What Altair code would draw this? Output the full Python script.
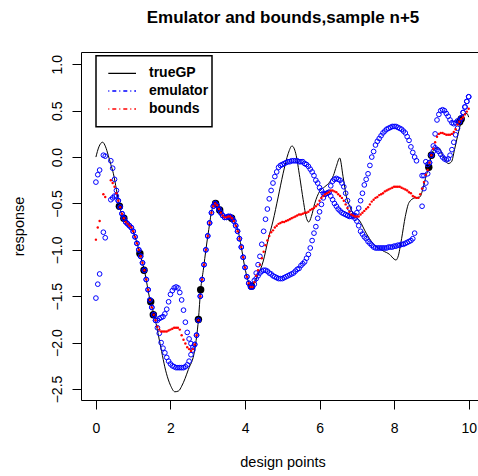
import altair as alt
import pandas as pd

FONT = "Liberation Sans"

# grid step for emulator / bounds evaluations
STEP = 0.05
N = 201

emu_upper = [
    -0.27, -0.19, -0.14, None, 0.02, 0.01, None, None, -0.04, -0.12,
    -0.24, -0.36, -0.47, -0.54, -0.61, -0.66, -0.70, -0.72, -0.74, -0.76,
    -0.80, -0.86, -0.93, -1.00, -1.07, -1.14, -1.22, -1.32, -1.43, -1.54,
    -1.62, -1.70, -1.76, -1.76, -1.74, -1.73, -1.72, -1.69, -1.64, -1.56,
    -1.48, -1.44, -1.41, -1.40, -1.41, -1.46, -1.54, -1.65, -1.78, -1.89,
    -1.96, -2.01, -2.05, -2.02, -1.92, -1.76, -1.50, -1.32, -1.16, -1.00,
    -0.85, -0.71, -0.60, -0.53, -0.50, -0.52, -0.56, -0.60, -0.63, -0.65,
    -0.65, -0.64, -0.64, -0.66, -0.69, -0.74, -0.80, -0.88, -0.97, -1.08,
    -1.19, -1.29, -1.36, -1.40, -1.40, -1.33, -1.25, -1.16, -1.07, -0.94,
    -0.80, -0.67, -0.56, -0.45, -0.36, -0.28, -0.21, -0.16, -0.11, -0.09,
    -0.08, -0.07, -0.06, -0.05, -0.05, -0.04, -0.04, -0.04, -0.04, -0.05,
    -0.05, -0.05, -0.07, -0.08, -0.10, -0.13, -0.16, -0.20, -0.25, -0.28,
    -0.33, -0.36, -0.39, -0.40, -0.39, -0.38, -0.31, -0.26, -0.24, -0.23,
    -0.24, -0.25, -0.28, -0.32, -0.39, -0.47, -0.55, -0.61, -0.63, -0.63,
    -0.60, -0.55, -0.47, -0.39, -0.30, -0.24, -0.18, -0.09, 0.00, 0.06,
    0.13, 0.17, 0.20, 0.23, 0.26, 0.28, 0.30, 0.31, 0.32, 0.33,
    0.33, 0.33, 0.32, 0.31, 0.30, 0.28, 0.26, 0.22, 0.18, 0.11,
    0.05, 0.00, -0.04, None, None, -0.20, -0.20, -0.05, -0.08, -0.06,
    0.02, 0.12, 0.25, 0.40, 0.46, 0.50, 0.51, 0.50, 0.47, 0.44,
    0.40, 0.37, 0.36, 0.37, 0.39, 0.38, 0.42, 0.48, 0.54, 0.60,
    0.65,
]

bounds_mid = [
    -0.89, -0.76, -0.69, None, -0.40, -0.43, None, None, -0.25, -0.28,
    -0.32, -0.39, -0.47, -0.54, -0.61, -0.66, -0.70, -0.72, -0.74, -0.76,
    -0.80, -0.86, -0.93, -1.00, -1.07, -1.14, -1.22, -1.32, -1.43, -1.54,
    -1.62, -1.70, -1.76, -1.83, -1.86, -1.88, -1.88, -1.88, -1.88, -1.87,
    -1.86, -1.85, -1.84, -1.84, -1.84, -1.86, -1.92, -1.97, -2.01, -2.05,
    -2.07, -2.09, -2.07, -2.02, -1.92, -1.76, -1.50, -1.32, -1.16, -1.00,
    -0.85, -0.71, -0.60, -0.53, -0.50, -0.52, -0.56, -0.60, -0.63, -0.65,
    -0.65, -0.64, -0.64, -0.66, -0.69, -0.74, -0.80, -0.88, -0.97, -1.08,
    -1.19, -1.29, -1.36, -1.40, -1.40, -1.35, -1.28, -1.22, -1.16, -1.09,
    -1.02, -0.95, -0.90, -0.85, -0.81, -0.79, -0.76, -0.74, -0.72, -0.71,
    -0.70, -0.70, -0.69, -0.68, -0.67, -0.66, -0.65, -0.64, -0.63, -0.62,
    -0.62, -0.61, -0.60, -0.60, -0.59, -0.57, -0.56, -0.55, -0.53, -0.51,
    -0.47, -0.44, -0.42, -0.40, -0.39, -0.38, -0.36, -0.36, -0.37, -0.38,
    -0.40, -0.42, -0.44, -0.47, -0.51, -0.55, -0.59, -0.62, -0.63, -0.64,
    -0.64, -0.64, -0.62, -0.60, -0.58, -0.56, -0.54, -0.51, -0.48, -0.46,
    -0.44, -0.43, -0.41, -0.40, -0.39, -0.37, -0.36, -0.35, -0.34, -0.33,
    -0.32, -0.32, -0.32, -0.32, -0.33, -0.34, -0.35, -0.36, -0.38, -0.39,
    -0.42, -0.43, -0.44, -0.44, -0.40, -0.34, -0.27, -0.19, -0.14, -0.06,
    0.02, 0.09, 0.16, 0.22, 0.25, 0.26, 0.26, 0.25, 0.24, 0.24,
    0.24, 0.25, 0.27, 0.30, 0.35, 0.38, 0.41, 0.43, 0.46, 0.49,
    0.52,
]

emu_lower = [
    -1.52, -1.37, -1.26, None, -0.81, -0.87, None, None, -0.46, -0.44,
    -0.42, -0.42, -0.47, -0.54, -0.61, -0.66, -0.70, -0.72, -0.74, -0.76,
    -0.80, -0.86, -0.93, -1.00, -1.07, -1.14, -1.22, -1.32, -1.43, -1.54,
    -1.62, -1.70, -1.76, -1.84, -1.90, -2.00, -2.06, -2.11, -2.16, -2.20,
    -2.23, -2.25, -2.26, -2.27, -2.27, -2.27, -2.27, -2.27, -2.26, -2.24,
    -2.20, -2.13, -2.08, -2.02, -1.92, -1.76, -1.50, -1.32, -1.16, -1.00,
    -0.85, -0.71, -0.60, -0.53, -0.50, -0.52, -0.56, -0.60, -0.63, -0.65,
    -0.65, -0.64, -0.64, -0.66, -0.69, -0.74, -0.80, -0.88, -0.97, -1.08,
    -1.19, -1.29, -1.36, -1.40, -1.40, -1.37, -1.31, -1.28, -1.25, -1.23,
    -1.22, -1.22, -1.23, -1.25, -1.26, -1.28, -1.29, -1.30, -1.31, -1.31,
    -1.31, -1.30, -1.29, -1.28, -1.27, -1.26, -1.25, -1.23, -1.21, -1.20,
    -1.17, -1.15, -1.13, -1.09, -1.05, -0.98, -0.90, -0.82, -0.75, -0.66,
    -0.59, -0.51, -0.44, -0.40, -0.39, -0.38, -0.42, -0.46, -0.50, -0.53,
    -0.56, -0.58, -0.60, -0.61, -0.62, -0.63, -0.64, -0.64, -0.64, -0.66,
    -0.69, -0.74, -0.80, -0.83, -0.86, -0.88, -0.91, -0.93, -0.95, -0.97,
    -0.98, -0.98, -0.98, -0.98, -0.98, -0.98, -0.98, -0.97, -0.97, -0.97,
    -0.96, -0.96, -0.95, -0.95, -0.94, -0.94, -0.93, -0.92, -0.91, -0.90,
    -0.88, -0.82, None, None, None, -0.53, -0.34, -0.28, -0.18, -0.06,
    0.02, 0.06, 0.10, 0.08, 0.06, 0.03, 0.00, -0.02, -0.03, -0.02,
    0.02, 0.08, 0.16, 0.24, 0.31, 0.38, 0.42, 0.48, 0.54, 0.60,
    0.65,
]

true_x = [0.0, 0.08, 0.18, 0.26, 0.33, 0.40, 0.47, 0.55, 0.63, 0.75, 0.85, 0.95,
          1.05, 1.18, 1.30, 1.45, 1.58, 1.72, 1.89, 2.00, 2.12, 2.22, 2.30, 2.48,
          2.65, 2.75, 2.81, 2.88, 2.96, 3.05, 3.10, 3.21, 3.32, 3.41, 3.50, 3.64,
          3.75, 3.81, 3.90, 3.99, 4.08, 4.17, 4.25, 4.35, 4.49, 4.62, 4.75, 4.89,
          5.02, 5.16, 5.26, 5.36, 5.47, 5.56, 5.65, 5.71, 5.78, 5.87, 6.00, 6.14,
          6.27, 6.37, 6.45, 6.54, 6.63, 6.72, 6.81, 6.90, 7.08, 7.25, 7.43, 7.70,
          7.88, 8.00, 8.05, 8.10, 8.20, 8.30, 8.40, 8.55, 8.69, 8.78, 8.86, 8.93,
          9.00, 9.10, 9.20, 9.30, 9.38, 9.45, 9.54, 9.62, 9.71, 9.80, 9.88, 9.95,
          10.0]
true_y = [0.00, 0.11, 0.16, 0.11, 0.02, -0.08, -0.18, -0.35, -0.53, -0.66, -0.72, -0.76,
          -0.86, -1.04, -1.22, -1.54, -1.73, -2.01, -2.33, -2.46, -2.53, -2.52, -2.47, -2.29,
          -2.08, -1.75, -1.43, -1.22, -0.97, -0.72, -0.59, -0.50, -0.57, -0.63, -0.65, -0.66,
          -0.73, -0.79, -0.97, -1.18, -1.33, -1.39, -1.35, -1.27, -1.12, -0.89, -0.69, -0.43,
          -0.18, 0.04, 0.12, 0.04, -0.22, -0.46, -0.66, -0.70, -0.64, -0.50, -0.37, -0.32,
          -0.27, -0.20, -0.10, -0.01, -0.21, -0.43, -0.53, -0.61, -0.69, -0.82, -0.93, -1.01,
          -1.05, -1.10, -1.11, -1.08, -0.88, -0.64, -0.49, -0.44, -0.43, -0.33, -0.20, -0.11,
          0.02, 0.09, 0.10, 0.02, -0.04, -0.07, -0.05, 0.08, 0.24, 0.38, 0.46, 0.47,
          0.43]

design_x = [0.63, 0.75, 1.18, 1.29, 1.47, 1.54, 2.75, 2.81, 3.21, 3.32, 3.64, 4.17,
            8.93, 9.00, 9.76, 9.80]
design_y = [-0.53, -0.66, -1.04, -1.22, -1.56, -1.70, -1.75, -1.43, -0.50, -0.57, -0.66, -1.39,
            -0.11, 0.02, 0.38, 0.41]

legend_labels = ["trueGP", "emulator", "bounds"]
legend_colors = ["black", "blue", "red"]

title_text = "Emulator and bounds,sample n+5"
x_title = "design points"
y_title = "response"
x_ticks = [0, 2, 4, 6, 8, 10]
y_ticks = [-2.5, -2.0, -1.5, -1.0, -0.5, 0.0, 0.5, 1.0]

grid = [round(STEP * i, 2) for i in range(N)]

blue_rows = []
for gx, u, l in zip(grid, emu_upper, emu_lower):
    if u is not None:
        blue_rows.append({"x": gx, "y": u})
    if l is not None:
        blue_rows.append({"x": gx, "y": l})
blue_df = pd.DataFrame(blue_rows)
red_df = pd.DataFrame([{"x": gx, "y": m} for gx, m in zip(grid, bounds_mid) if m is not None])
true_df = pd.DataFrame({"x": true_x, "y": true_y})
design_df = pd.DataFrame({"x": design_x, "y": design_y})

xscale = alt.Scale(domain=[-0.4, 10.25], nice=False, zero=False)
yscale = alt.Scale(domain=[-2.6186, 1.1326], nice=False, zero=False)

xaxis = alt.Axis(values=x_ticks, title=x_title, tickSize=9, labelPadding=23,
                 labelBaseline="alphabetic", labelFontSize=14, labelFont=FONT,
                 labelColor="black", tickColor="black", domain=False, grid=False,
                 titleFont=FONT, titleFontSize=14.5, titleFontWeight="normal",
                 titleColor="black", titleX=201.5, titleY=66, titleAlign="center",
                 titleBaseline="alphabetic", labelFlush=False)
yaxis = alt.Axis(values=y_ticks, format=".1f", title=y_title, tickSize=9, labelPadding=11,
                 labelAngle=270, labelAlign="center", labelBaseline="alphabetic",
                 labelFontSize=14, labelFont=FONT, labelColor="black", tickColor="black",
                 domain=False, grid=False, titleFont=FONT, titleFontSize=14.5,
                 titleFontWeight="normal", titleColor="black", titleAngle=270,
                 titleX=-57.5, titleY=174, titleAlign="center", titleBaseline="alphabetic",
                 labelFlush=False)

X = alt.X("x:Q", scale=xscale, axis=xaxis)
Y = alt.Y("y:Q", scale=yscale, axis=yaxis)

line = alt.Chart(true_df).mark_line(color="black", strokeWidth=1, interpolate="monotone",
                                    clip=True).encode(x=X, y=Y)
design = alt.Chart(design_df).mark_circle(color="black", size=55, opacity=1).encode(x=X, y=Y)
blue = alt.Chart(blue_df).mark_point(shape="circle", filled=False, color="blue", size=22,
                                     strokeWidth=1, opacity=1).encode(x=X, y=Y)
red = alt.Chart(red_df).mark_circle(color="red", size=6, opacity=1).encode(x=X, y=Y)

one = pd.DataFrame({"k": [0]})

title_layer = alt.Chart(one).mark_text(
    font=FONT, fontSize=17, fontWeight="bold", align="center", baseline="alphabetic",
    color="black").encode(x=alt.value(202), y=alt.value(-29.5), text=alt.value(title_text))

legend_layers = [
    alt.Chart(one).mark_rect(fill="white", stroke="black", strokeWidth=1.5).encode(
        x=alt.value(15), x2=alt.value(131), y=alt.value(3.7), y2=alt.value(74.7))
]
row_y = [21.3, 39.0, 57.0]
dashes = [[1, 0], [1, 3, 4, 3], [1, 3, 4, 3]]
for lab, col, ry, dash in zip(legend_labels, legend_colors, row_y, dashes):
    legend_layers.append(
        alt.Chart(one).mark_rule(color=col, strokeWidth=1.3, strokeDash=dash).encode(
            x=alt.value(27.3), x2=alt.value(55), y=alt.value(ry)))
    legend_layers.append(
        alt.Chart(one).mark_text(font=FONT, fontSize=14, fontWeight="bold", align="left",
                                 baseline="middle", color="black").encode(
            x=alt.value(68), y=alt.value(ry), text=alt.value(lab)))

chart = alt.layer(line, design, blue, red, *legend_layers, title_layer).properties(
    width=397, height=348,
).configure(
    autosize=alt.AutoSizeParams(type="none"),
    padding={"left": 81, "top": 52, "right": 0, "bottom": 76},
    background="white",
).configure_view(stroke="black", strokeWidth=1)

chart.save("out.html", embed_options={"renderer": "svg", "actions": False})
